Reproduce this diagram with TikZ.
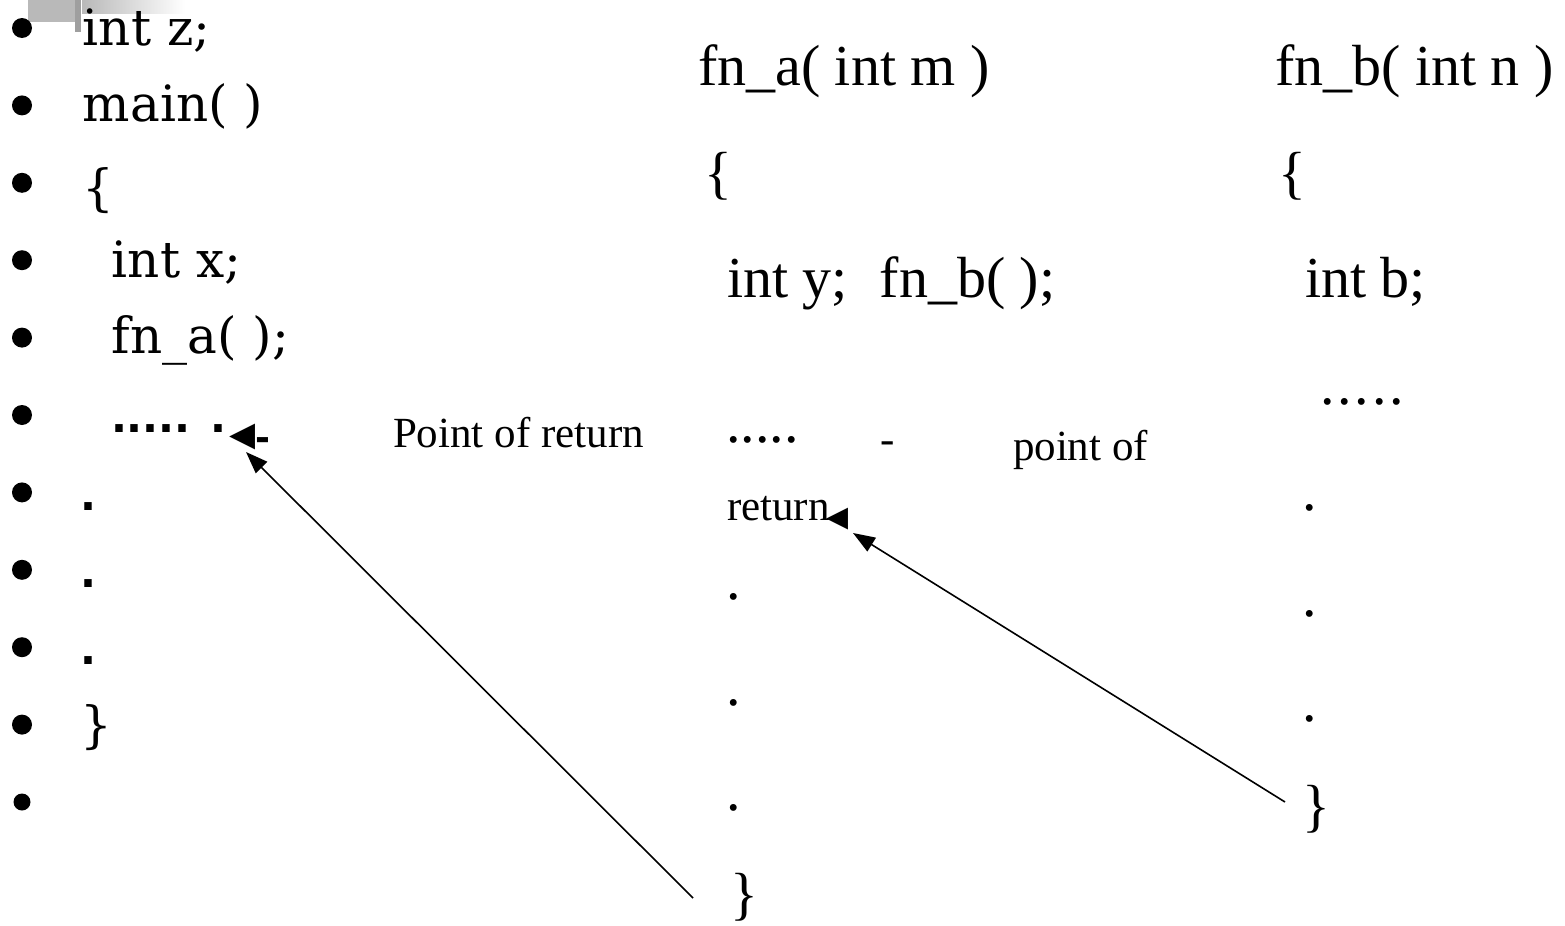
\documentclass[tikz,border=0pt]{standalone}
\usepackage{fontspec}
\setmainfont{Liberation Serif}
\newfontfamily\leftfont{DejaVu Serif}
\newfontfamily\symfont{DejaVu Sans}
\usetikzlibrary{arrows.meta, positioning}

\begin{document}
\begin{tikzpicture}[
    x=0.5pt, y=-0.5pt,
    every node/.style={inner sep=0pt, outer sep=0pt, anchor=base west},
    lcode/.style={font=\leftfont\fontsize{25}{30}\selectfont},
    ldot/.style={font=\symfont\bfseries\fontsize{21}{26}\selectfont},
    code/.style={font=\fontsize{29}{34}\selectfont},
    note/.style={font=\fontsize{21.5}{26}\selectfont},
    tri/.style={font=\symfont\fontsize{26}{28}\selectfont},
    arrow/.style={-{Triangle[length=11pt, width=8pt]}, line width=0.8pt}
]
\useasboundingbox (0,0) rectangle (1565,926);

% grey corner marks of the slide
\fill[gray!55] (28,0) rectangle (75,22);
\fill[gray!75] (75,0) rectangle (81,32);
\shade[left color=gray!55, right color=white] (82,0) rectangle (185,13);

% Bullets
\foreach \i in {0,...,9}
  \fill (22,28+77.4*\i) circle (10);
\fill (22,802) circle (8.5);

% main
\node[lcode] (lz) at (83,46) {int z;};
\node[lcode] (lmain) at (83,121) {main( )};
\node[lcode] (lopen) at (83,205) {\{};
\node[lcode] (lx) at (112,277) {int x;};
\node[lcode] (lcall) at (112,353) {fn\_a( );};
\node[ldot] (ldots) at (111,432) {..... .};
\node[tri] (lret) at (229,450) {◂{\bfseries\fontsize{18}{20}\selectfont -}};
\node[ldot] (ld1) at (80,510) {.};
\node[ldot] (ld2) at (80,587) {.};
\node[ldot] (ld3) at (80,664) {.};
\node[lcode] (lclose) at (80,742) {\}};
\node[note] (porA) at (393,447) {Point of return};

% fn_a
\node[code] (fa) at (698,85) {fn\_a( int m )};
\node[code] (faopen) at (704,192) {\{};
\node[code] (fay) at (727,297) {int y;\hspace{16pt}fn\_b( );};
\node[code] (fadots) at (726,442) {.....};
\node[note] (dash) at (880,453) {-};
\node[note] (porB) at (1013,460) {point of};
\node[note] (ret) at (727,520)
  {return\kern-1.5pt\raisebox{-5pt}{\symfont\fontsize{22}{24}\selectfont ◂}};
\node[code] (fad1) at (726,599) {.};
\node[code] (fad2) at (726,705) {.};
\node[code] (fad3) at (726,810) {.};
\node[code] (faclose) at (730,913) {\}};

% fn_b
\node[code] (fb) at (1275,85) {fn\_b( int n )};
\node[code] (fbopen) at (1278,192) {\{};
\node[code] (fbb) at (1305,297) {int b;};
\node[code] (fbdots) at (1320,404) {.\kern1.5pt.\kern1.5pt.\kern1.5pt.\kern1.5pt.};
\node[code] (fbd1) at (1302,510) {.};
\node[code] (fbd2) at (1302,616) {.};
\node[code] (fbd3) at (1302,721) {.};
\node[code] (fbclose) at (1302,825) {\}};

% Arrows
\coordinate (tailA) at (693,898);
\coordinate (tipA) at (246,452);
\coordinate (tailB) at (1285,802);
\coordinate (tipB) at (853,533);
\draw[arrow] (tailA) -- (tipA);
\draw[arrow] (tailB) -- (tipB);

\end{tikzpicture}
\end{document}
